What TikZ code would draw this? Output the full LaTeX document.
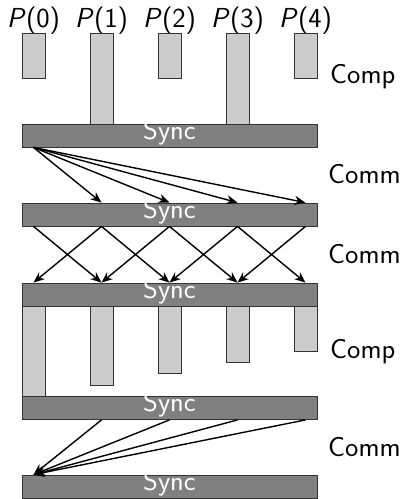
\documentclass[tikz,border=0pt]{standalone}
\usepackage{fontspec}
\usetikzlibrary{arrows.meta,calc}
% slightly widened lettering
\newcommand\wtxt[1]{\scalebox{1.03}[1]{#1}}
\begin{document}
\begin{tikzpicture}[x=1pt,y=-1pt,
  every node/.style={font=\sffamily\fontsize{27.5}{30}\selectfont},
  syncbar/.style={draw=black!80, fill=black!50, text=white,
    minimum width=295pt, minimum height=23pt, inner sep=0pt, line width=0.8pt,
    text height=12pt, text depth=5pt},
  compbar/.style={draw=black!80, fill=black!20, line width=0.8pt},
  msg/.style={-{Stealth[length=11pt,width=9pt]}, line width=1.4pt},
  phase/.style={anchor=base west, inner sep=0pt}]
\useasboundingbox (0,0) rectangle (400,499);

% processor columns
\foreach \i in {0,...,4} \coordinate (c\i) at ({33.5+68*\i},0);

% processor labels
\foreach \i in {0,...,4}
  \node[anchor=base] (p\i) at ($(c\i)+(0,27)$) {\wtxt{\textsl{P}(\i)}};

% first computation phase
\foreach \i/\b in {0/78,1/124,2/78,3/124,4/78}
  \draw[compbar] ($(c\i)+(-11.5,33)$) rectangle ($(c\i)+(11.5,\b)$);

% second computation phase
\foreach \i/\b in {0/397,1/385,2/373,3/362,4/351}
  \draw[compbar] ($(c\i)+(-11.5,305)$) rectangle ($(c\i)+(11.5,\b)$);

% synchronisation barriers
\node[syncbar] (s1) at (169.5,135.5) {\wtxt{Sync}};
\node[syncbar] (s2) at (169.5,214.5) {\wtxt{Sync}};
\node[syncbar] (s3) at (169.5,294.5) {\wtxt{Sync}};
\node[syncbar] (s4) at (169.5,408) {\wtxt{Sync}};
\node[syncbar] (s5) at (169.5,486.5) {\wtxt{Sync}};

% broadcast from P(0)
\foreach \j in {1,...,4}
  \draw[msg] (c0 |- s1.south) -- (c\j |- s2.north);

% neighbour exchange
\foreach \i/\j in {0/1,1/0,1/2,2/1,2/3,3/2,3/4,4/3}
  \draw[msg] (c\i |- s2.south) -- (c\j |- s3.north);

% gather to P(0)
\foreach \i in {1,...,4}
  \draw[msg] (c\i |- s4.south) -- (c0 |- s5.north);

% phase labels
\node[phase] (l1) at (330,83) {\wtxt{Comp}};
\node[phase] (l2) at (328,183) {\wtxt{Comm}};
\node[phase] (l3) at (328,263) {\wtxt{Comm}};
\node[phase] (l4) at (330,358) {\wtxt{Comp}};
\node[phase] (l5) at (328,456) {\wtxt{Comm}};
\end{tikzpicture}
\end{document}
